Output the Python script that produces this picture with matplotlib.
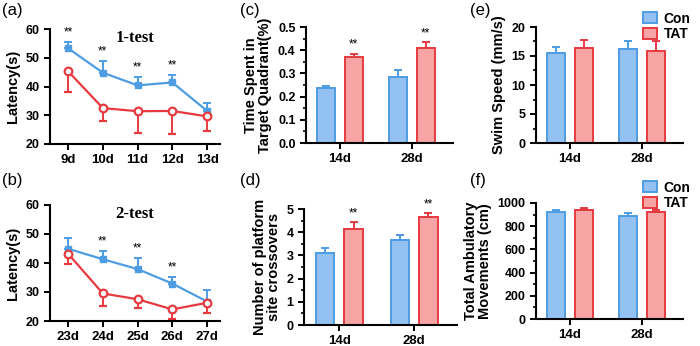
import matplotlib.pyplot as plt
import numpy as np
from matplotlib.ticker import AutoMinorLocator
from matplotlib.patches import Patch

plt.rcParams['font.family'] = ['Liberation Sans', 'DejaVu Sans']

# data
days_a = ['9d', '10d', '11d', '12d', '13d']
con_a = [53.3, 44.8, 40.4, 41.4, 31.5]
con_a_err = [2.1, 4.1, 3.0, 2.6, 2.6]
tat_a = [45.3, 32.5, 31.4, 31.5, 29.6]
tat_a_err = [7.1, 4.4, 7.5, 8.0, 5.1]
stars_a = [True, True, True, True, False]

days_b = ['23d', '24d', '25d', '26d', '27d']
con_b = [44.9, 41.3, 37.9, 32.9, 26.7]
con_b_err = [3.7, 2.8, 3.9, 2.4, 4.0]
tat_b = [43.2, 29.5, 27.5, 24.0, 26.3]
tat_b_err = [3.5, 4.3, 2.9, 3.3, 3.7]
stars_b = [False, True, True, True, False]

groups = ['14d', '28d']
con_c = [0.237, 0.284]
con_c_err = [0.010, 0.029]
tat_c = [0.371, 0.409]
tat_c_err = [0.014, 0.025]

con_d = [3.10, 3.65]
con_d_err = [0.21, 0.24]
tat_d = [4.14, 4.64]
tat_d_err = [0.28, 0.19]

con_e = [15.6, 16.2]
con_e_err = [0.9, 1.4]
tat_e = [16.3, 15.9]
tat_e_err = [1.4, 1.6]

con_f = [920, 891]
con_f_err = [17, 23]
tat_f = [940, 922]
tat_f_err = [20, 18]

blue_line = '#4e9de3'
red_line = '#e63a40'
blue_fill = '#93c2f2'
red_fill = '#f7a4a4'

W, H = 700, 346
fig = plt.figure(figsize=(7, 3.46), dpi=100)


def make_ax(l, r, t, b):
    ax = fig.add_axes([l / W, 1 - b / H, (r - l) / W, (b - t) / H])
    for s in ['top', 'right']:
        ax.spines[s].set_visible(False)
    for s in ['left', 'bottom']:
        ax.spines[s].set_linewidth(1.5)
    ax.tick_params(width=1.4, length=4)
    return ax


def line_panel(ax, days, con, con_err, tat, tat_err, stars, title, ylab):
    x = np.arange(len(days))
    ax.errorbar(x, con, yerr=[np.zeros(len(con)), con_err], color=blue_line,
                marker='s', ms=4.5, lw=1.6, capsize=3, capthick=1.4, elinewidth=1.4)
    ax.errorbar(x, tat, yerr=[tat_err, np.zeros(len(tat))], color=red_line,
                marker='o', ms=5.5, mfc='white', mew=1.6, lw=1.6, capsize=3,
                capthick=1.4, elinewidth=1.4)
    for i in range(len(days)):
        if stars[i]:
            ax.text(x[i], con[i] + con_err[i] + 1.2, '**', ha='center', va='bottom',
                    fontsize=8.5)
    ax.set_ylim(20, 60)
    ax.set_yticks([20, 30, 40, 50, 60])
    ax.set_xlim(-0.52, 4.37)
    ax.set_xticks(x)
    ax.set_xticklabels(days, fontweight='bold', fontsize=9.5)
    ax.set_yticklabels([20, 30, 40, 50, 60], fontweight='bold', fontsize=9)
    ax.set_ylabel(ylab, fontweight='bold', fontsize=10.5)
    ax.text(0.5, 0.99, title, transform=ax.transAxes, ha='center', va='top',
            fontsize=12, fontweight='bold', family='Liberation Serif')


def bar_panel(ax, con, con_err, tat, tat_err, stars, ylim, yticks, ylab, fmt):
    x = np.arange(len(groups))
    off = 0.19
    w = 0.25
    ax.bar(x - off, con, w, color=blue_fill, edgecolor=blue_line, lw=1.4,
           yerr=[np.zeros(2), con_err], capsize=3,
           error_kw=dict(ecolor=blue_line, elinewidth=1.4, capthick=1.4))
    ax.bar(x + off, tat, w, color=red_fill, edgecolor=red_line, lw=1.4,
           yerr=[np.zeros(2), tat_err], capsize=3,
           error_kw=dict(ecolor=red_line, elinewidth=1.4, capthick=1.4))
    if stars:
        for i in range(2):
            ax.text(x[i] + off, tat[i] + tat_err[i] + (ylim[1] - ylim[0]) * 0.025, '**',
                    ha='center', va='bottom', fontsize=8.5)
    ax.set_ylim(*ylim)
    ax.set_yticks(yticks)
    ax.set_yticklabels([fmt.format(v) for v in yticks], fontweight='bold', fontsize=9)
    ax.yaxis.set_minor_locator(AutoMinorLocator(2))
    ax.tick_params(which='minor', length=2.5, width=1.2)
    ax.set_xlim(-0.47, 1.57)
    ax.set_xticks(x)
    ax.set_xticklabels(groups, fontweight='bold', fontsize=9.5)
    ax.set_ylabel(ylab, fontweight='bold', fontsize=10.5, linespacing=1.0)


ax_a = make_ax(50, 220, 29, 144)
line_panel(ax_a, days_a, con_a, con_a_err, tat_a, tat_a_err, stars_a, '1-test', 'Latency(s)')
ax_b = make_ax(50, 220, 205, 321)
line_panel(ax_b, days_b, con_b, con_b_err, tat_b, tat_b_err, stars_b, '2-test', 'Latency(s)')

ax_c = make_ax(306, 453, 27, 143)
bar_panel(ax_c, con_c, con_c_err, tat_c, tat_c_err, True, (0, 0.5),
          [0, 0.1, 0.2, 0.3, 0.4, 0.5], 'Time Spent in\nTarget Quadrant(%)', '{:.1f}')
ax_d = make_ax(304, 457, 209, 325)
bar_panel(ax_d, con_d, con_d_err, tat_d, tat_d_err, True, (0, 5),
          [0, 1, 2, 3, 4, 5], 'Number of platform\nsite crossovers', '{:d}')
ax_e = make_ax(536, 683, 27, 143)
bar_panel(ax_e, con_e, con_e_err, tat_e, tat_e_err, False, (0, 20),
          [0, 5, 10, 15, 20], 'Swim Speed (mm/s)', '{:d}')
ax_f = make_ax(536, 683, 203, 319)
bar_panel(ax_f, con_f, con_f_err, tat_f, tat_f_err, False, (0, 1000),
          [0, 200, 400, 600, 800, 1000], 'Total Ambulatory\nMovements (cm)', '{:d}')

handles = [Patch(facecolor=blue_fill, edgecolor=blue_line, lw=1.4, label='Con'),
           Patch(facecolor=red_fill, edgecolor=red_line, lw=1.4, label='TAT')]
for y in [2, 171]:
    fig.legend(handles=handles, loc='upper left', bbox_to_anchor=(633 / W, 1 - y / H),
               frameon=False, prop=dict(weight='bold', size=10), handlelength=1.0,
               handleheight=0.85, handletextpad=0.5, labelspacing=0.1, borderpad=0.2)

for lab, (x, y) in zip(['(a)', '(b)', '(c)', '(d)', '(e)', '(f)'],
                       [(2, 11), (2, 181), (240, 11), (240, 181), (470, 11), (470, 181)]):
    fig.text(x / W, 1 - y / H, lab, fontsize=12, va='center', ha='left')

fig.savefig('out.png', dpi=100)
